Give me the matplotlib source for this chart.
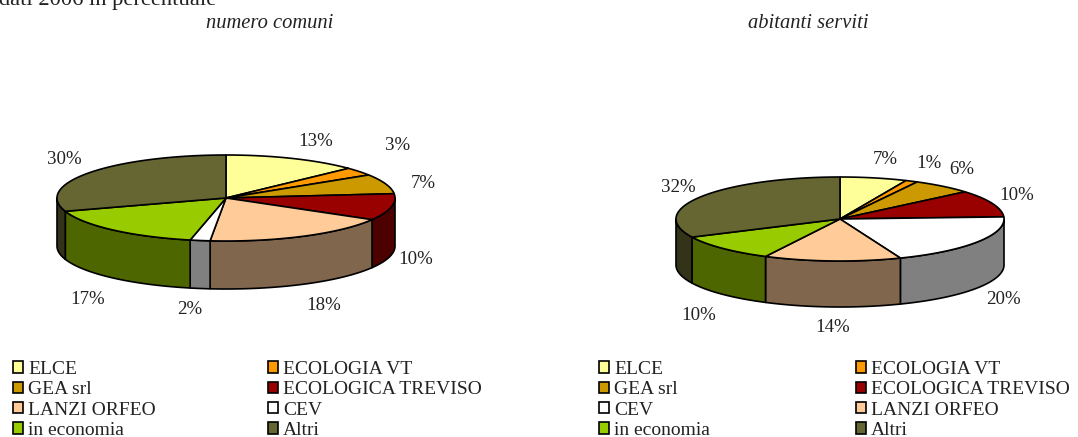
import numpy as np
import matplotlib
matplotlib.use("Agg")
import matplotlib.pyplot as plt
from matplotlib.patches import Polygon, Patch

plt.rcParams['font.family'] = ['Liberation Serif', 'DejaVu Serif']

heading = "dati 2006 in percentuale"
titles = ["numero comuni", "abitanti serviti"]
left_labels = ["ELCE", "ECOLOGIA VT", "GEA srl", "ECOLOGICA TREVISO",
               "LANZI ORFEO", "CEV", "in economia", "Altri"]
left_values = [12.9, 3.1, 7.4, 10.0, 18.1, 1.9, 16.6, 30.0]
left_colors = ["#FFFF99", "#FF9900", "#CC9900", "#990000",
               "#FFCC99", "#FFFFFF", "#99CC00", "#666633"]
right_labels = ["ELCE", "ECOLOGIA VT", "GEA srl", "ECOLOGICA TREVISO",
                "CEV", "LANZI ORFEO", "in economia", "Altri"]
right_values = [6.6, 1.2, 6.0, 10.4, 19.8, 13.5, 10.4, 32.1]
right_colors = ["#FFFF99", "#FF9900", "#CC9900", "#990000",
                "#FFFFFF", "#FFCC99", "#99CC00", "#666633"]

W, H = 1078, 437
FS = 13.6
fig = plt.figure(figsize=(W / 100, H / 100), dpi=100)
ax = fig.add_axes([0, 0, 1, 1])
ax.set_xlim(0, W)
ax.set_ylim(H, 0)
ax.axis("off")


def darker(c):
    r, g, b = matplotlib.colors.to_rgb(c)
    return (r * 0.5, g * 0.5, b * 0.5)


def pie3d(values, colors, cx, cy, rx, ry, depth, label_xy):
    edges = np.cumsum([0] + list(values)) / sum(values) * 360.0
    pt = lambda t: (cx + rx * np.sin(np.radians(t)), cy - ry * np.cos(np.radians(t)))
    # side walls: only the front half of the rim is visible
    for a, b, c in zip(edges[:-1], edges[1:], colors):
        lo, hi = max(a, 90), min(b, 270)
        if hi <= lo:
            continue
        t = np.linspace(lo, hi, 60)
        xs, ys = pt(t)
        verts = list(zip(xs, ys)) + list(zip(xs[::-1], ys[::-1] + depth))
        ax.add_patch(Polygon(verts, closed=True, fc=darker(c), ec="black", lw=1.2, joinstyle="round"))
    # top face
    for a, b, c in zip(edges[:-1], edges[1:], colors):
        t = np.linspace(a, b, 80)
        xs, ys = pt(t)
        verts = [(cx, cy)] + list(zip(xs, ys))
        ax.add_patch(Polygon(verts, closed=True, fc=c, ec="black", lw=1.2, joinstyle="round"))
    for v, (x, y) in zip(values, label_xy):
        ax.text(x, y, f"{v:.0f}%", ha="center", va="center", fontsize=FS, color="#222222")


left_label_xy = [(316, 141), (398, 145), (423, 184), (416, 260),
                 (324, 306), (190, 310), (88, 299), (64, 159)]
right_label_xy = [(885, 159), (929, 163), (962, 169), (1017, 195),
                  (1003, 299), (833, 327), (699, 315), (678, 187)]
pie3d(left_values, left_colors, 226, 198, 169, 43, 48, left_label_xy)
pie3d(right_values, right_colors, 840, 219, 164, 42, 46, right_label_xy)

ax.text(-1, 5, heading, ha="left", va="baseline", fontsize=16.2, color="#222222")
ax.text(270, 24, titles[0], ha="center", va="center", fontsize=14.8, style="italic", color="#222222")
ax.text(808, 24, titles[1], ha="center", va="center", fontsize=14.8, style="italic", color="#222222")


def legend_col(labels, colors, x, y_top):
    handles = [Patch(fc=c, ec="black", lw=1.2) for c in colors]
    leg = ax.legend(handles, labels, loc="upper left",
                    bbox_to_anchor=(x / W, 1 - y_top / H), bbox_transform=fig.transFigure,
                    frameon=False, fontsize=14, labelspacing=0.17, handlelength=0.52,
                    handleheight=0.52, handletextpad=0.26, borderpad=0, borderaxespad=0,
                    labelcolor="#222222")
    ax.add_artist(leg)
    ax.legend_ = None


legend_col(left_labels[0::2], left_colors[0::2], 13, 361)
legend_col(left_labels[1::2], left_colors[1::2], 268, 361)
legend_col(right_labels[0::2], right_colors[0::2], 599, 361)
legend_col(right_labels[1::2], right_colors[1::2], 856, 361)

fig.savefig("out.png", dpi=100)
